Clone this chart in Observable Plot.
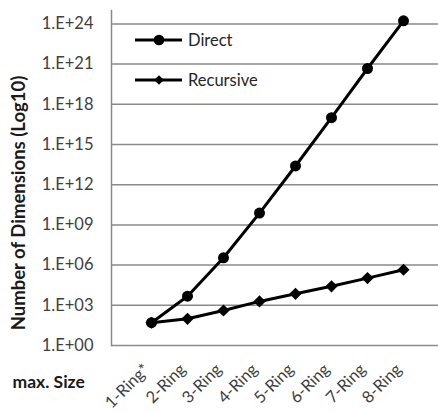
<!DOCTYPE html>
<html>
<head>
<meta charset="utf-8">
<script src="https://cdn.jsdelivr.net/npm/d3@7"></script>
<script src="https://cdn.jsdelivr.net/npm/@observablehq/plot@0.6"></script>
<style>
  html, body { margin: 0; padding: 0; background: #fff; }
  #wrap { position: relative; width: 438px; height: 413px; font-family: Lato, "Open Sans", sans-serif; }
  #legend { position: absolute; left: 0; top: 0; pointer-events: none; }
</style>
</head>
<body>
<div id="wrap"></div>
<script>
const categories = ["1-Ring*", "2-Ring", "3-Ring", "4-Ring", "5-Ring", "6-Ring", "7-Ring", "8-Ring"];
const directValues = [50, 4.8e3, 3.5e6, 7.6e9, 2.5e13, 1.0e17, 4.7e20, 1.7e24];
const recursiveValues = [50, 98, 410, 1950, 7.2e3, 2.6e4, 1.07e5, 4.5e5];
const yTickExponents = [0, 3, 6, 9, 12, 15, 18, 21, 24];
const seriesNames = ["Direct", "Recursive"];

const yTicks = yTickExponents.map(e => Math.pow(10, e));
const direct = categories.map((c, i) => ({cat: c, value: directValues[i]}));
const recursive = categories.map((c, i) => ({cat: c, value: recursiveValues[i]}));

const FS = 16.5;
const chart = Plot.plot({
  width: 438,
  height: 413,
  marginLeft: 111,
  marginRight: 0,
  marginTop: 10,
  marginBottom: 68,
  style: {fontFamily: "Lato, 'Open Sans', sans-serif", background: "#fff"},
  x: {type: "point", domain: categories, range: [132, 422], axis: null},
  y: {type: "log", domain: [1, 1e25]},
  marks: [
    Plot.gridY(yTicks, {stroke: "#8a8a8a", strokeOpacity: 1, strokeWidth: 1.5}),
    Plot.frame({anchor: "left", stroke: "#8a8a8a", strokeWidth: 1.5}),
    Plot.axisY(yTicks, {
      tickSize: 0, tickPadding: 18, fontSize: FS, fill: "#404040",
      tickFormat: d => "1.E+" + String(Math.round(Math.log10(d))).padStart(2, "0"),
      label: null
    }),
    Plot.text(categories, {
      x: d => d, frameAnchor: "bottom", rotate: -45, textAnchor: "end",
      dx: -1, dy: 25, fontSize: FS, fill: "#404040"
    }),
    Plot.line(direct, {x: "cat", y: "value", stroke: "black", strokeWidth: 3}),
    Plot.line(recursive, {x: "cat", y: "value", stroke: "black", strokeWidth: 3}),
    Plot.dot(direct, {x: "cat", y: "value", r: 5.5, fill: "black", symbol: "circle"}),
    Plot.dot(recursive, {x: "cat", y: "value", r: 5.5, fill: "black", symbol: "diamond2"}),
    Plot.text(["Number of Dimensions (Log10)"], {
      frameAnchor: "left", dx: -92, dy: 25, rotate: -90,
      fontSize: 18.5, fontWeight: "bold", fill: "#1a1a1a", textAnchor: "middle"
    }),
    Plot.text(["max. Size"], {
      frameAnchor: "bottom-left", dx: -99, dy: 42, textAnchor: "start",
      fontSize: 17.5, fontWeight: "bold", fill: "#1a1a1a"
    })
  ]
});

const wrap = document.getElementById("wrap");
wrap.appendChild(chart);

// Legend overlay
const ns = "http://www.w3.org/2000/svg";
const leg = document.createElementNS(ns, "svg");
leg.setAttribute("id", "legend");
leg.setAttribute("width", 438);
leg.setAttribute("height", 413);
const legendRows = [
  {name: seriesNames[0], y: 40, symbol: d3.symbolCircle, size: 90},
  {name: seriesNames[1], y: 80, symbol: d3.symbolDiamond2, size: 60}
];
legendRows.forEach(row => {
  const line = document.createElementNS(ns, "line");
  line.setAttribute("x1", 135); line.setAttribute("x2", 182);
  line.setAttribute("y1", row.y); line.setAttribute("y2", row.y);
  line.setAttribute("stroke", "black"); line.setAttribute("stroke-width", 3);
  leg.appendChild(line);
  const p = document.createElementNS(ns, "path");
  p.setAttribute("d", d3.symbol(row.symbol, row.size)());
  p.setAttribute("transform", `translate(159,${row.y})`);
  p.setAttribute("fill", "black");
  leg.appendChild(p);
  const t = document.createElementNS(ns, "text");
  t.setAttribute("x", 188); t.setAttribute("y", row.y);
  t.setAttribute("dy", "0.35em");
  t.setAttribute("font-size", 16.5);
  t.setAttribute("font-family", "Lato, 'Open Sans', sans-serif");
  t.setAttribute("fill", "#262626");
  t.textContent = row.name;
  leg.appendChild(t);
});
wrap.appendChild(leg);
</script>
</body>
</html>
